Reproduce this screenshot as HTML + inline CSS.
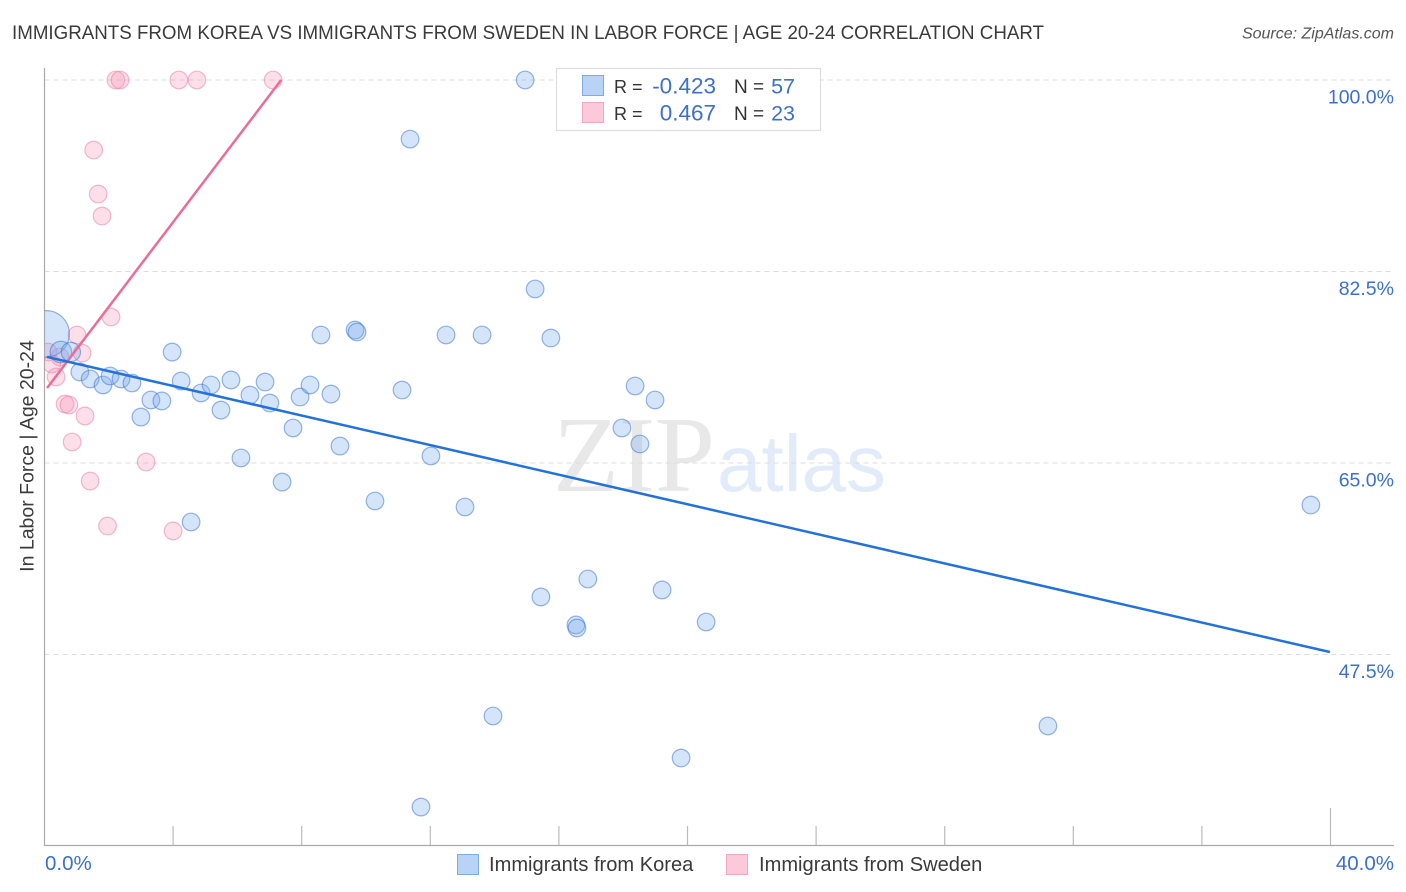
<!DOCTYPE html>
<html lang="en">
<head>
<meta charset="utf-8">
<title>Immigrants from Korea vs Immigrants from Sweden correlation chart</title>
<style>
html,body{margin:0;padding:0;background:#fff;}
body{width:1406px;height:892px;overflow:hidden;font-family:"Liberation Sans",sans-serif;}
svg{display:block;}
text{font-family:"Liberation Sans",sans-serif;}
</style>
</head>
<body>
<svg id="chart" width="1406" height="892" viewBox="0 0 1406 892" xmlns="http://www.w3.org/2000/svg">
  <defs>
    <clipPath id="plot-clip"><rect x="44.5" y="60" width="1350" height="786"></rect></clipPath>
  </defs>
  <text x="12" y="39" font-size="19.5" fill="#3a3a3a" textLength="1032" lengthAdjust="spacingAndGlyphs">IMMIGRANTS FROM KOREA VS IMMIGRANTS FROM SWEDEN IN LABOR FORCE | AGE 20-24 CORRELATION CHART</text>
  <text x="1394" y="38.5" font-size="16" font-style="italic" fill="#555" text-anchor="end">Source: ZipAtlas.com</text>

  <g>
    <text x="553" y="491" font-size="108" fill="#e8e8e8" style="font-family:'Liberation Serif',serif">ZIP</text>
    <text x="717" y="491" font-size="80" fill="#e2ebf9">atlas</text>
  </g>

  <g id="grid"></g>
  <g id="y-labels"></g>
  <g id="x-ticks"></g>

  <line x1="44.5" y1="68" x2="44.5" y2="846" stroke="#aaa" stroke-width="1.2"></line>
  <line x1="44" y1="845.5" x2="1394" y2="845.5" stroke="#aaa" stroke-width="1.2"></line>

  <g id="points" clip-path="url(#plot-clip)"></g>
  <g id="trends"></g>

  <text transform="translate(33.5,456) rotate(-90)" font-size="19.5" fill="#3a3a3a" text-anchor="middle">In Labor Force | Age 20-24</text>
  <text id="x-min" x="45" y="870" font-size="20.5" fill="#3b6fd0"></text>
  <text id="x-max" x="1394" y="870" font-size="20.5" fill="#3b6fd0" text-anchor="end"></text>

  <g>
    <rect x="556.5" y="68.5" width="264" height="62" fill="#fff" stroke="#ddd" stroke-width="1.2"></rect>
    <rect x="582.5" y="75.5" width="21" height="20" fill="#b8d3f6" stroke="#7eaae6"></rect>
    <rect x="582.5" y="102.5" width="21" height="20" fill="#fbc9da" stroke="#f3a8c2"></rect>
    <text x="614" y="93" font-size="18" fill="#333">R =</text>
    <text x="716" y="93.5" font-size="22.5" fill="#3b6fd0" text-anchor="end">-0.423</text>
    <text x="734" y="93" font-size="19" fill="#333">N =</text>
    <text x="795" y="93.5" font-size="21.5" fill="#3b6fd0" text-anchor="end">57</text>
    <text x="614" y="120" font-size="18" fill="#333">R =</text>
    <text x="716" y="120.5" font-size="22.5" fill="#3b6fd0" text-anchor="end">0.467</text>
    <text x="734" y="120" font-size="19" fill="#333">N =</text>
    <text x="795" y="120.5" font-size="21.5" fill="#3b6fd0" text-anchor="end">23</text>
  </g>

  <g>
    <rect x="457.5" y="854.5" width="21" height="20" fill="#b8d3f6" stroke="#7eaae6"></rect>
    <text x="489" y="871" font-size="20.1" fill="#3a3a3a">Immigrants from Korea</text>
    <rect x="726.5" y="854.5" width="21" height="20" fill="#fbc9da" stroke="#f3a8c2"></rect>
    <text x="759" y="871" font-size="20.1" fill="#3a3a3a">Immigrants from Sweden</text>
  </g>
</svg>
<script>
const koreaX = [14.95,11.37,15.26,8.60,9.66,9.72,12.49,13.61,15.75,3.97,0.05,0.51,0.82,1.10,1.42,1.82,2.04,2.38,2.72,3.00,3.31,3.65,4.25,4.87,5.18,5.49,5.80,6.11,6.39,6.86,7.01,7.39,7.73,7.95,8.26,8.91,9.19,10.28,11.12,12.02,13.08,4.56,18.37,18.99,17.96,18.52,39.39,16.90,15.44,19.21,16.53,16.56,20.58,13.95,31.21,19.80,11.71];
const koreaY = [100,94.6,80.9,76.7,77.15,76.97,76.7,76.7,76.42,75.14,76.8,75.14,75.14,73.32,72.68,72.13,72.95,72.68,72.31,69.2,70.76,70.67,72.49,71.4,72.13,69.84,72.59,65.46,71.21,72.4,70.48,63.26,68.2,71.03,72.13,71.3,66.55,61.53,71.67,65.64,60.98,59.61,72.04,70.76,68.2,66.74,61.16,54.4,52.76,53.4,50.2,49.92,50.47,41.88,40.97,38.04,33.56];
const koreaWeights = [1,1,1,1,1,1,1,1,1,1,7,1.5,1.2,1,1,1,1,1,1,1,1,1,1,1,1,1,1,1,1,1,1,1,1,1,1,1,1,1,1,1,1,1,1,1,1,1,1,1,1,1,1,1,1,1,1,1,1];
const swedenX = [2.22,2.35,4.18,4.74,7.11,1.53,1.67,1.79,2.07,1.01,1.17,0.11,0.48,0.23,0.36,0.64,0.76,1.26,0.86,1.42,3.16,1.96,4.00];
const swedenY = [100,100,100,100,100,93.6,89.58,87.57,78.34,76.7,75.05,75.14,74.69,74.05,72.86,70.39,70.3,69.3,66.92,63.35,65.09,59.24,58.79];
const koreaTrendX = [0.08,39.98];
const koreaTrendY = [74.69,47.73];
const swedenTrendX = [0.08,7.36];
const swedenTrendY = [71.85,100];
const yTicks = [100,82.5,65,47.5];
const yTickLabels = ["100.0%","82.5%","65.0%","47.5%"];
const xTicks = [4,8,12,16,20,24,28,32,36,40];
const xEndLabels = ["0.0%","40.0%"];

const NS = "http://www.w3.org/2000/svg";
function xScale(v){ return 44.5 + v * 32.15; }
function yScale(v){ return 80 + (100 - v) * 10.943; }
function mk(tag, parent, attrs){
  const el = document.createElementNS(NS, tag);
  for (const k in attrs) el.setAttribute(k, attrs[k]);
  parent.appendChild(el);
  return el;
}

const grid = document.getElementById("grid");
const yLabels = document.getElementById("y-labels");
yTicks.forEach(function(t, i){
  const line = mk("line", grid, {x1:44.5, x2:1394, y1:yScale(t), y2:yScale(t), stroke:"#dcdcdc", "stroke-width":1, "stroke-dasharray":"5 4"});
  
  
  const label = mk("text", yLabels, {x:1394, y:yScale(t) + 23.5, "font-size":19.5, fill:"#3b6fd0", "text-anchor":"end"});
  label.textContent = yTickLabels[i];
  
  
});

const xTickGroup = document.getElementById("x-ticks");
xTicks.forEach(function(t, i){
  const top = i === xTicks.length - 1 ? 808 : 826;
  const tick = mk("line", xTickGroup, {x1:xScale(t), x2:xScale(t), y1:top, y2:846, stroke:"#bbb", "stroke-width":1.2});
  
  
});
document.getElementById("x-min").textContent = xEndLabels[0];
document.getElementById("x-max").textContent = xEndLabels[1];

const points = document.getElementById("points");
swedenX.forEach(function(v, i){
  const c = mk("circle", points, {cx:xScale(v), cy:yScale(swedenY[i]), r:8.8, fill:"rgba(246,150,182,0.3)", stroke:"rgba(232,120,160,0.5)", "stroke-width":1.2});
  
  
});
koreaX.forEach(function(v, i){
  const c = mk("circle", points, {cx:xScale(v), cy:yScale(koreaY[i]), r:8.8 * Math.sqrt(koreaWeights[i]), fill:"rgba(120,170,235,0.32)", stroke:"rgba(50,110,210,0.5)", "stroke-width":1.2});
  
  
});

const trends = document.getElementById("trends");
const trendSweden = mk("line", trends, {x1:xScale(swedenTrendX[0]), y1:yScale(swedenTrendY[0]), x2:xScale(swedenTrendX[1]), y2:yScale(swedenTrendY[1]), stroke:"#ea6d99", "stroke-width":2.5});


const trendKorea = mk("line", trends, {x1:xScale(koreaTrendX[0]), y1:yScale(koreaTrendY[0]), x2:xScale(koreaTrendX[1]), y2:yScale(koreaTrendY[1]), stroke:"#2272d9", "stroke-width":2.5});


</script>
</body>
</html>
